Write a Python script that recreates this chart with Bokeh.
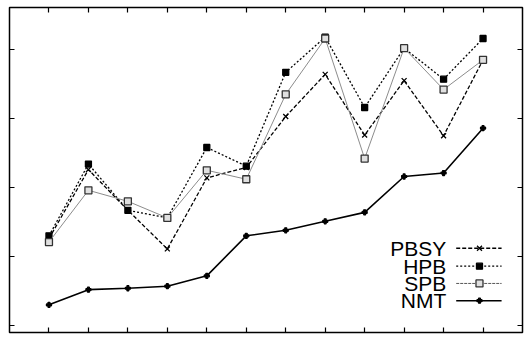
from bokeh.plotting import figure
from bokeh.models import FixedTicker, LinearAxis, Range1d
from bokeh.core.properties import value
from bokeh.embed import file_html
from bokeh.resources import INLINE

x = [1, 2, 3, 4, 5, 6, 7, 8, 9, 10, 11, 12]
pbsy = [1.26, 2.26, 1.67, 1.11, 2.14, 2.29, 3.03, 3.64, 2.76, 3.55, 2.75, 3.85]
hpb = [1.30, 2.34, 1.67, 1.56, 2.58, 2.31, 3.67, 4.18, 3.16, 4.02, 3.57, 4.16]
spb = [1.21, 1.96, 1.80, 1.56, 2.25, 2.12, 3.35, 4.16, 2.42, 4.02, 3.42, 3.85]
nmt = [0.30, 0.52, 0.54, 0.57, 0.72, 1.30, 1.38, 1.51, 1.64, 2.16, 2.21, 2.86]
y_ticks = [0, 1, 2, 3, 4]
legend_names = ["PBSY", "HPB", "SPB", "NMT"]

p = figure(width=528, height=338, output_backend="svg", toolbar_location=None,
           x_range=Range1d(0, 13), y_range=Range1d(-0.101, 4.609),
           x_axis_location=None, y_axis_location=None,
           min_border_left=9, min_border_right=6, min_border_top=7, min_border_bottom=6)
p.grid.visible = False
p.outline_line_color = "black"
p.outline_line_width = 1.5
p.background_fill_color = "white"
p.border_fill_color = "white"

def add_axis(side, ticks):
    ax = LinearAxis(ticker=FixedTicker(ticks=ticks))
    ax.major_tick_in = 5
    ax.major_tick_out = 0
    ax.minor_tick_in = 0
    ax.minor_tick_out = 0
    ax.major_tick_line_color = "black"
    ax.major_tick_line_width = 1.2
    ax.axis_line_color = None
    ax.major_label_text_font_size = "1px"
    ax.major_label_text_color = None
    ax.major_label_overrides = {t: "" for t in ticks}
    ax.major_label_standoff = 0
    p.add_layout(ax, side)

add_axis("below", x)
add_axis("above", x)
add_axis("left", y_ticks)
add_axis("right", y_ticks)

styles = {
    "PBSY": dict(color="black", dash="4 2", width=1.3, marker="x", msize=7, fill="black", mline="black"),
    "HPB": dict(color="black", dash="2 2", width=1.3, marker="square", msize=6, fill="black", mline="black"),
    "SPB": dict(color="#8c8c8c", dash="solid", width=1.0, marker="square", msize=7, fill="#e0e0e0", mline="#333333"),
    "NMT": dict(color="black", dash="solid", width=1.6, marker="plus", msize=5, fill="black", mline="black"),
}
series = {"PBSY": pbsy, "HPB": hpb, "SPB": spb, "NMT": nmt}

for name in legend_names:
    s = styles[name]
    ys = series[name]
    p.line(x, ys, line_color=s["color"], line_dash=s["dash"], line_width=s["width"])
    p.scatter(x, ys, marker=s["marker"], size=s["msize"], fill_color=s["fill"],
              line_color=s["mline"], line_width=1.3)

# legend (label left of sample)
leg_y = [1.12, 0.86, 0.61, 0.36]
for name, yy in zip(legend_names, leg_y):
    s = styles[name]
    p.text([11.07], [yy], text=[name], text_align="right", text_baseline="middle",
           text_font=value("Liberation Sans"), text_font_size="21px", text_color="black")
    p.line([11.32, 12.47], [yy, yy], line_color="black" if name != "SPB" else "#555555",
           line_dash=s["dash"] if name != "SPB" else "3 1", line_width=s["width"])
    p.scatter([11.91], [yy], marker=s["marker"], size=s["msize"], fill_color=s["fill"],
              line_color=s["mline"], line_width=1.3)

open("out.html", "w").write(file_html(p, INLINE))
